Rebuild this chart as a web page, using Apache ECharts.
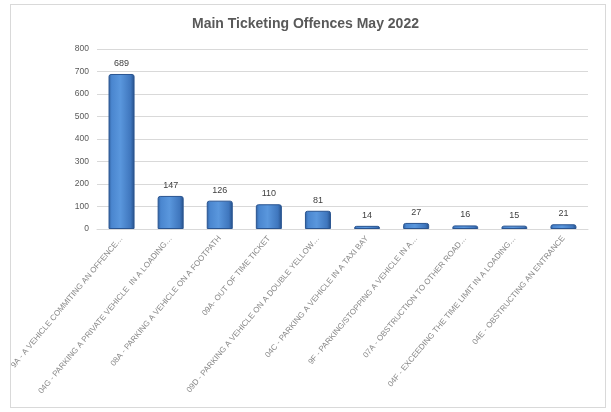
<!DOCTYPE html>
<html>
<head>
<meta charset="utf-8">
<script src="https://cdn.jsdelivr.net/npm/echarts@6/dist/echarts.min.js"></script>
<style>
html,body{margin:0;padding:0;background:#fff;}
#frame{position:absolute;left:10px;top:4px;width:596px;height:404px;border:1px solid #d9d9d9;box-sizing:border-box;}
#c{position:absolute;left:0;top:0;width:611px;height:412px;}
</style>
</head>
<body>
<div id="frame"></div>
<div id="c"></div>
<script>
const categories = [
  "9A - A VEHICLE COMMITING AN OFFENCE…",
  "04G - PARKING A PRIVATE VEHICLE  IN A LOADING…",
  "08A - PARKING A VEHICLE ON A FOOTPATH",
  "09A- OUT OF TIME TICKET",
  "09D - PARKING A VEHICLE ON A DOUBLE YELLOW…",
  "04C - PARKING A VEHICLE IN A TAXI BAY",
  "9F - PARKING/STOPPING A VEHICLE IN A…",
  "07A - OBSTRUCTION TO OTHER ROAD…",
  "04F - EXCEEDING THE TIME LIMIT IN A LOADING…",
  "04E - OBSTRUCTING AN ENTRANCE"
];
const values = [689, 147, 126, 110, 81, 14, 27, 16, 15, 21];
const yTicks = { min: 0, max: 800, interval: 100 };

const chart = echarts.init(document.getElementById('c'));
chart.setOption({
  animation: false,
  title: {
    text: 'Main Ticketing Offences May 2022',
    left: 'center', top: 12,
    textStyle: { fontFamily: 'Liberation Sans, sans-serif', fontWeight: 'bold', fontSize: 14, color: '#595959' }
  },
  grid: { left: 97, right: 23, top: 49, bottom: 183 },
  xAxis: {
    type: 'category',
    data: categories,
    axisLine: { lineStyle: { color: '#d9d9d9' } },
    axisTick: { show: false },
    axisLabel: {
      interval: 0, rotate: 50, margin: 8,
      fontFamily: 'Liberation Sans, sans-serif', fontSize: 8, color: '#8a8a8a'
    }
  },
  yAxis: {
    type: 'value', min: yTicks.min, max: yTicks.max, interval: yTicks.interval,
    axisLine: { show: false }, axisTick: { show: false },
    splitLine: { lineStyle: { color: '#d9d9d9' } },
    axisLabel: { fontFamily: 'Liberation Sans, sans-serif', fontSize: 8.5, color: '#595959', margin: 8 }
  },
  series: [{
    type: 'bar',
    data: values,
    barWidth: '53%',
    itemStyle: {
      color: new echarts.graphic.LinearGradient(0, 0, 1, 0, [
        { offset: 0, color: '#2f5f9e' },
        { offset: 0.12, color: '#4a86cf' },
        { offset: 0.45, color: '#5a97dd' },
        { offset: 0.85, color: '#3f76bd' },
        { offset: 1, color: '#254f88' }
      ]),
      borderColor: '#2a5591', borderWidth: 1, borderRadius: [2, 2, 0, 0]
    },
    label: {
      show: true, position: 'top', distance: 6,
      fontFamily: 'Liberation Sans, sans-serif', fontSize: 9, color: '#404040'
    }
  }]
});
</script>
</body>
</html>
